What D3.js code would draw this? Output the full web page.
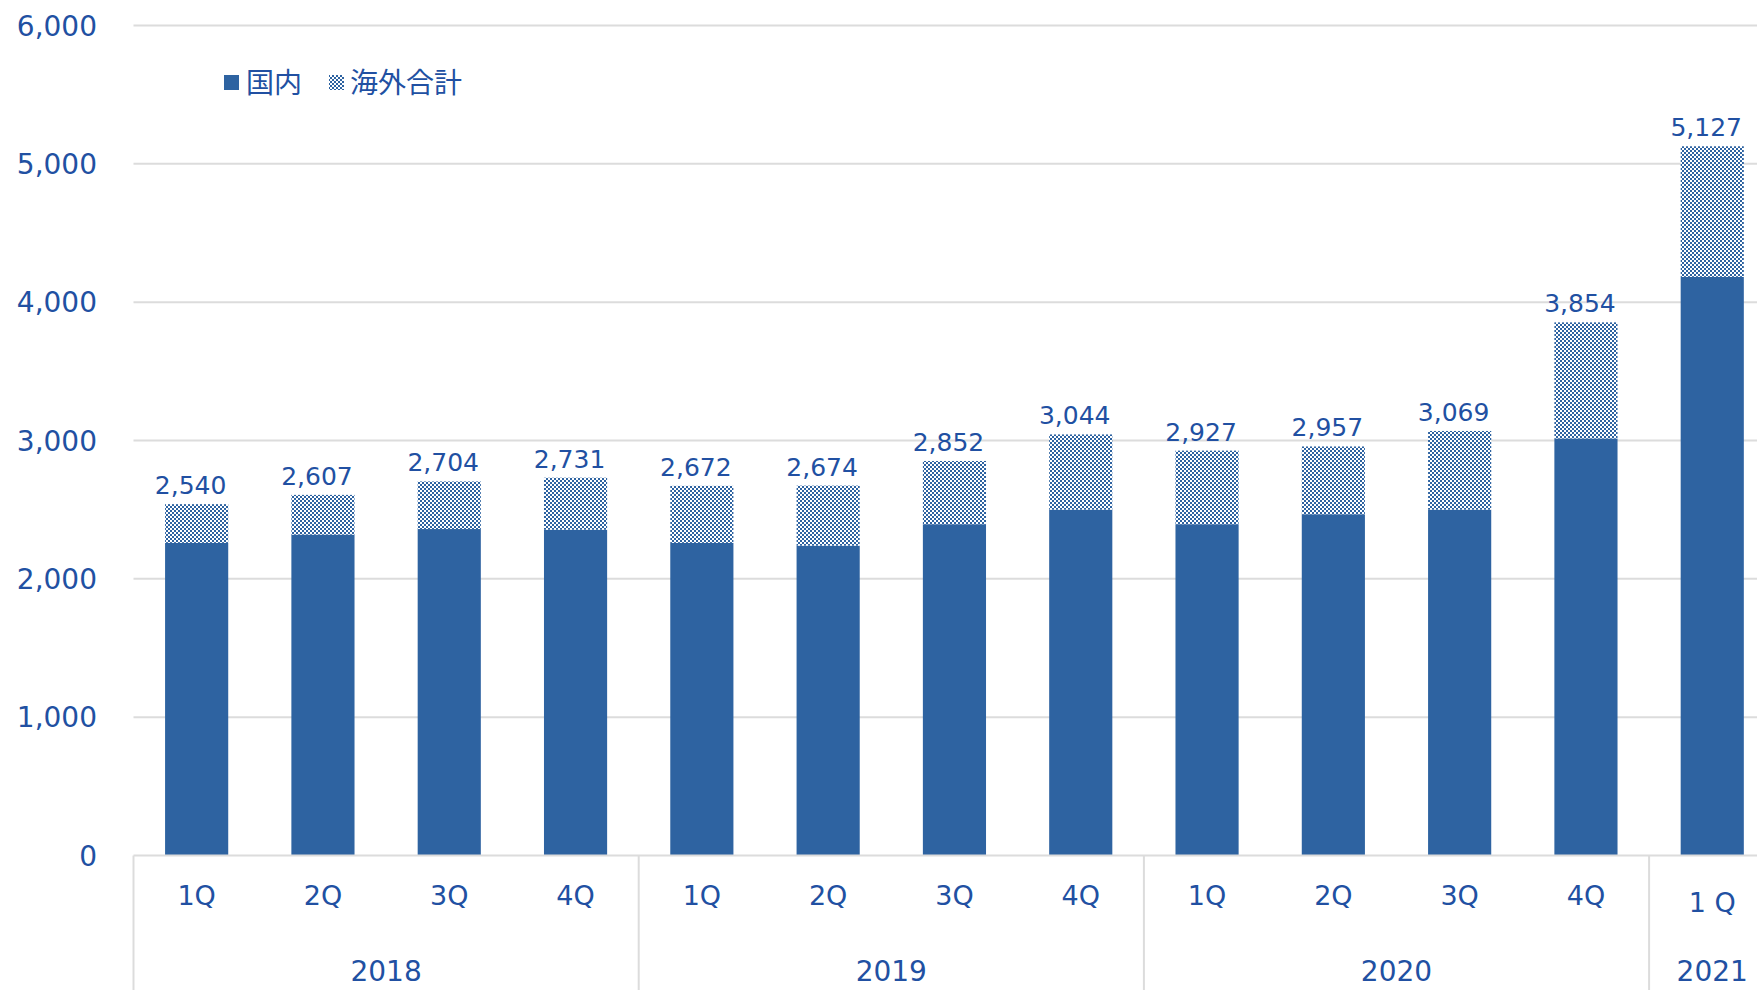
<!DOCTYPE html>
<html>
<head>
<meta charset="utf-8">
<script src="https://cdn.jsdelivr.net/npm/d3@7"></script>
<style>
    html, body { margin: 0; padding: 0; background: #fff; }
    svg { display: block; }
</style>
</head>
<body>
<svg id="chart" width="1757" height="990"></svg>
<script>
// data
const quarters = ["1Q", "2Q", "3Q", "4Q", "1Q", "2Q", "3Q", "4Q", "1Q", "2Q", "3Q", "4Q", "1 Q"];
const yearOfBar = ["2018", "2018", "2018", "2018", "2019", "2019", "2019", "2019", "2020", "2020", "2020", "2020", "2021"];
const years = ["2018", "2019", "2020", "2021"];
const domestic = [2260, 2320, 2360, 2355, 2260, 2240, 2395, 2500, 2395, 2467, 2500, 3015, 4183];
const totals = [2540, 2607, 2704, 2731, 2672, 2674, 2852, 3044, 2927, 2957, 3069, 3854, 5127];
const yTicks = [0, 1000, 2000, 3000, 4000, 5000, 6000];
const legendNames = ["国内", "海外合計"];

class QuarterBar {
    constructor (element, configs) {
        this.svg = d3.select(element);
        this.defaultConfig = {
            left: 133.5,
            step: 126.3,
            top: 25.5,
            bottom: 855.5,
            barColor: "#2E63A1",
            textColor: "#2150A2",
            gridColor: "#DCDCDC",
            font: "'DejaVu Sans', Verdana, sans-serif"
        };
        this.config = Object.assign({}, this.defaultConfig, configs);
        this.initParams();
        this.setPattern();
        this.setGrid();
        this.draw();
        this.setAxisX();
        this.setLegend();
    }

    initParams () {
        let c = this.config;
        this.rows = quarters.map((q, i) => {
            return {i: i, q: q, year: yearOfBar[i], dom: domestic[i], total: totals[i]};
        });
        this.x = d3.scaleBand()
            .domain(d3.range(quarters.length))
            .range([c.left, c.left + c.step * quarters.length])
            .paddingInner(0.5)
            .paddingOuter(0.25);
        this.y = d3.scaleLinear().domain([0, 6000]).range([c.bottom, c.top]);
    }

    setPattern () {
        let p = this.svg.append("defs").append("pattern")
            .attr("id", "checker")
            .attr("patternUnits", "userSpaceOnUse")
            .attr("width", 4)
            .attr("height", 4);
        p.append("rect").attr("width", 4).attr("height", 4).attr("fill", "#fff");
        p.append("rect").attr("width", 2).attr("height", 2).attr("fill", this.config.barColor);
        p.append("rect").attr("x", 2).attr("y", 2).attr("width", 2).attr("height", 2).attr("fill", this.config.barColor);
    }

    setGrid () {
        let c = this.config;
        this.svg.append("g")
            .selectAll("line")
            .data(yTicks.filter(d => d > 0))
            .enter()
            .append("line")
            .attr("x1", c.left)
            .attr("x2", 1757)
            .attr("y1", d => this.y(d))
            .attr("y2", d => this.y(d))
            .attr("stroke", c.gridColor)
            .attr("stroke-width", 2);

        this.svg.append("g")
            .selectAll("text")
            .data(yTicks)
            .enter()
            .append("text")
            .attr("x", 97)
            .attr("y", d => this.y(d))
            .attr("dy", "0.36em")
            .attr("text-anchor", "end")
            .attr("font-family", c.font)
            .attr("font-size", 28)
            .attr("fill", c.textColor)
            .text(d => d3.format(",")(d));
    }

    draw () {
        let c = this.config;
        let bw = this.x.bandwidth();
        let g = this.svg.append("g");

        g.selectAll(".dom")
            .data(this.rows)
            .enter()
            .append("rect")
            .attr("class", "dom")
            .attr("x", d => this.x(d.i))
            .attr("width", bw)
            .attr("y", d => this.y(d.dom))
            .attr("height", d => this.y(0) - this.y(d.dom))
            .attr("fill", c.barColor);

        g.selectAll(".ovs")
            .data(this.rows)
            .enter()
            .append("rect")
            .attr("class", "ovs")
            .attr("x", d => this.x(d.i))
            .attr("width", bw)
            .attr("y", d => this.y(d.total))
            .attr("height", d => this.y(d.dom) - this.y(d.total))
            .attr("fill", "url(#checker)");

        g.selectAll(".lbl")
            .data(this.rows)
            .enter()
            .append("text")
            .attr("class", "lbl")
            .attr("x", d => this.x(d.i) + bw / 2 - 6)
            .attr("y", d => this.y(d.total) - 19)
            .attr("dy", "0.36em")
            .attr("text-anchor", "middle")
            .attr("font-family", c.font)
            .attr("font-size", 25)
            .attr("fill", c.textColor)
            .text(d => d3.format(",")(d.total));
    }

    setAxisX () {
        let c = this.config;
        let bw = this.x.bandwidth();
        let step = this.x.step();
        let g = this.svg.append("g");

        g.append("line")
            .attr("x1", c.left)
            .attr("x2", 1757)
            .attr("y1", c.bottom)
            .attr("y2", c.bottom)
            .attr("stroke", c.gridColor)
            .attr("stroke-width", 2);

        // year groups
        let groups = years.map((yr) => {
            let idx = this.rows.filter(r => r.year === yr).map(r => r.i);
            let x0 = this.x(d3.min(idx)) - (step - bw) / 2;
            let x1 = this.x(d3.max(idx)) + bw + (step - bw) / 2;
            return {year: yr, x0: x0, x1: x1};
        });

        g.selectAll(".sep")
            .data(groups)
            .enter()
            .append("line")
            .attr("class", "sep")
            .attr("x1", d => d.x0)
            .attr("x2", d => d.x0)
            .attr("y1", c.bottom)
            .attr("y2", 990)
            .attr("stroke", c.gridColor)
            .attr("stroke-width", 2);

        g.selectAll(".qtr")
            .data(this.rows)
            .enter()
            .append("text")
            .attr("class", "qtr")
            .attr("x", d => this.x(d.i) + bw / 2)
            .attr("y", d => d.q.indexOf(" ") > 0 ? 902 : 895)
            .attr("dy", "0.36em")
            .attr("text-anchor", "middle")
            .attr("font-family", c.font)
            .attr("font-size", 27)
            .attr("fill", c.textColor)
            .text(d => d.q);

        g.selectAll(".yr")
            .data(groups)
            .enter()
            .append("text")
            .attr("class", "yr")
            .attr("x", d => (d.x0 + d.x1) / 2)
            .attr("y", 971)
            .attr("dy", "0.36em")
            .attr("text-anchor", "middle")
            .attr("font-family", c.font)
            .attr("font-size", 28)
            .attr("fill", c.textColor)
            .text(d => d.year);
    }

    setLegend () {
        let c = this.config;
        let lg = this.svg.append("g").attr("transform", "translate(224,75)");
        lg.append("rect").attr("width", 15).attr("height", 15).attr("fill", c.barColor);
        lg.append("text")
            .attr("x", 22).attr("y", 8).attr("dy", "0.36em")
            .attr("font-family", "'Noto Sans CJK JP', sans-serif")
            .attr("font-size", 28)
            .attr("fill", c.textColor)
            .text(legendNames[0]);
        lg.append("rect").attr("x", 105).attr("width", 15).attr("height", 15).attr("fill", "url(#checker)");
        lg.append("text")
            .attr("x", 126).attr("y", 8).attr("dy", "0.36em")
            .attr("font-family", "'Noto Sans CJK JP', sans-serif")
            .attr("font-size", 28)
            .attr("fill", c.textColor)
            .text(legendNames[1]);
    }
}

new QuarterBar("#chart");
</script>
</body>
</html>
